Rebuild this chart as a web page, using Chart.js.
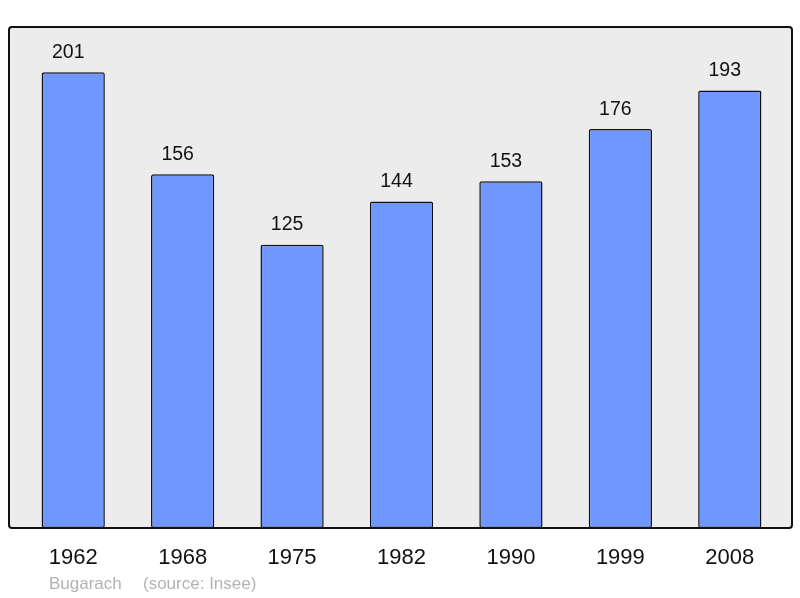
<!DOCTYPE html>
<html><head><meta charset="utf-8">
<script src="https://cdn.jsdelivr.net/npm/chart.js@4"></script>
<style>html,body{margin:0;padding:0;background:#fff}canvas{display:block}</style>
</head><body>
<canvas id="c" width="800" height="598"></canvas>
<script>
const years = ["1962","1968","1975","1982","1990","1999","2008"];
const population = [201,156,125,144,153,176,193];
const footerName = "Bugarach";
const footerSource = "(source: Insee)";

const framePlugin = {
  id:'frame',
  beforeDatasetsDraw(chart){
    const {ctx, chartArea:a} = chart;
    const l=a.left-9.5, r=a.right+7.5, t=a.top, b=a.bottom;
    ctx.save();
    ctx.beginPath();
    ctx.roundRect(l,t,r-l,b-t,3);
    ctx.fillStyle='#ececec';
    ctx.fill();
    ctx.lineWidth=2;
    ctx.strokeStyle='#111';
    ctx.stroke();
    ctx.restore();
  },
  afterDatasetsDraw(chart){
    const {ctx} = chart;
    const meta = chart.getDatasetMeta(0);
    ctx.save();
    ctx.font='19.5px "Liberation Sans", Arial, sans-serif';
    ctx.fillStyle='#111';
    ctx.textAlign='center';
    ctx.textBaseline='alphabetic';
    meta.data.forEach((bar,i)=>{
      ctx.fillText(String(population[i]), bar.x-5, bar.y-14.5);
    });
    ctx.font='17px "Liberation Sans", Arial, sans-serif';
    ctx.fillStyle='#b3b3b3';
    ctx.textAlign='left';
    ctx.textBaseline='middle';
    ctx.fillText(footerName, 49, 584);
    ctx.fillText(footerSource, 143, 584);
    ctx.restore();
  }
};

new Chart(document.getElementById('c'),{
  type:'bar',
  data:{labels:years,datasets:[{data:population,backgroundColor:'#7096ff',borderColor:'#111',borderWidth:1.5,borderRadius:2,borderSkipped:false,barPercentage:0.578,categoryPercentage:1}]},
  options:{
    responsive:false,animation:false,
    layout:{padding:{left:18.5,right:15.5,top:27,bottom:9.6}},
    plugins:{legend:{display:false},tooltip:{enabled:false}},
    scales:{
      y:{display:false,min:0,max:221},
      x:{grid:{display:false,drawTicks:false},border:{display:false},
         ticks:{padding:17,color:'#111',font:{size:22,family:'"Liberation Sans", Arial, sans-serif'}}}
    }
  },
  plugins:[framePlugin]
});
</script>
</body></html>
